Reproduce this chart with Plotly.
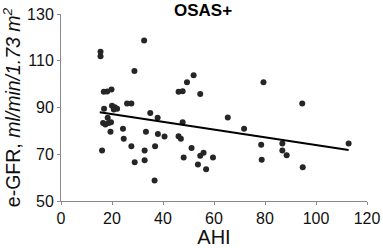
import plotly.graph_objects as go

ahi = [15.5, 15.5, 32.6, 28.8, 16.8, 18.1, 19.8, 16.9, 20.0, 21.1, 22.0, 20.7,
       25.9, 27.6, 35.0, 37.9, 18.3, 16.5, 17.4, 18.7, 19.6, 19.4, 24.3, 33.3,
       38.0, 24.6, 16.1, 27.6, 32.8, 36.9, 28.9, 32.8, 36.7,
       52.0, 49.4, 46.1, 47.7, 54.6, 47.7, 65.4, 71.8, 40.6, 46.1, 47.0, 51.2,
       55.9, 54.6, 48.1, 59.6, 53.7, 56.9,
       79.4, 94.6, 78.5, 86.8, 86.8, 88.5, 78.7, 94.8, 112.8]
egfr = [113.8, 111.9, 118.7, 105.6, 96.7, 96.8, 97.7, 89.5, 90.8, 90.1, 89.5, 89.1,
        91.7, 91.7, 87.7, 85.6, 85.6, 83.4, 82.7, 83.4, 83.7, 79.6, 80.9, 79.6,
        78.7, 76.6, 71.6, 73.4, 71.6, 73.4, 66.6, 67.4, 58.8,
        103.8, 100.8, 96.7, 96.9, 95.8, 83.7, 85.7, 80.9, 77.6, 77.7, 76.6, 72.7,
        70.6, 69.4, 68.6, 68.6, 65.6, 63.6,
        100.8, 91.7, 74.1, 74.6, 71.6, 69.6, 67.6, 64.4, 74.6]

fit_x = [15.2, 112.8]
fit_y = [88.0, 71.8]

x_ticks = [0, 20, 40, 60, 80, 100, 120]
y_ticks = [50, 70, 90, 110, 130]

W, H = 383, 248
L, R, T, B = 60.5, 16.3, 14.3, 46.5
pw, ph = W - L - R, H - T - B

fig = go.Figure()
fig.add_trace(go.Scatter(x=ahi, y=egfr, mode="markers",
                         marker=dict(size=6, color="#262626"),
                         showlegend=False, cliponaxis=False))
fig.add_trace(go.Scatter(x=fit_x, y=fit_y, mode="lines",
                         line=dict(color="black", width=2),
                         showlegend=False))

font = "Arial, Liberation Sans, sans-serif"
fig.update_layout(
    width=W, height=H,
    margin=dict(l=L, r=R, t=T, b=B, pad=0),
    paper_bgcolor="white", plot_bgcolor="white",
    font=dict(family=font, size=16, color="#111"),
    showlegend=False,
    xaxis=dict(range=[0, 120], tickvals=x_ticks, showgrid=False, zeroline=False,
               showline=True, linecolor="#8a8a8a", linewidth=1,
               ticks="outside", ticklen=3, tickcolor="#8a8a8a",
               tickfont=dict(size=16), automargin=False, ticklabeloverflow="allow",
               title=dict(text="AHI", font=dict(size=20), standoff=1)),
    yaxis=dict(range=[50, 130], tickvals=y_ticks, showgrid=False, zeroline=False,
               showline=True, linecolor="#8a8a8a", linewidth=1,
               ticks="outside", ticklen=3, tickcolor="#8a8a8a",
               tickfont=dict(size=16), automargin=False, ticklabeloverflow="allow",
               title=dict(text="e-GFR, <i>ml/min/1.73 m<sup>2</sup></i>",
                          font=dict(size=19.5), standoff=5)),
    annotations=[dict(text="<b>OSAS+</b>",
                      x=(203 - L) / pw, y=(H - B - 11) / ph,
                      xref="paper", yref="paper",
                      xanchor="center", yanchor="middle", showarrow=False,
                      font=dict(size=17, color="black"))],
)

fig.write_html("out.html",
               config={"displayModeBar": False},
               post_script="document.body.style.margin='0';document.body.style.padding='0';")
